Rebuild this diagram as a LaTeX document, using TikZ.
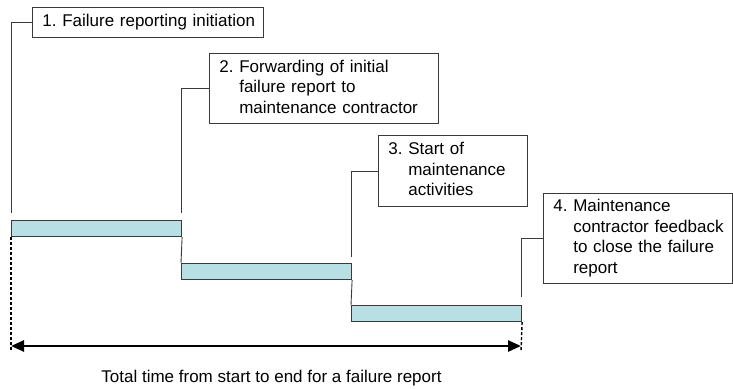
\documentclass[tikz,border=0pt]{standalone}
\usepackage{fontspec}
\setmainfont{Liberation Sans}
\usetikzlibrary{arrows.meta}
\definecolor{barfill}{HTML}{B8DFE3}
\definecolor{edge}{HTML}{3A3A3A}
\newcommand{\labelfont}{\fontsize{17}{20.5}\selectfont}
\tikzset{
  stepbox/.style={draw=edge, line width=0.9pt, fill=white, anchor=north west,
    inner xsep=10pt, inner ysep=0pt, align=left, font=\labelfont},
  phasebar/.style={draw=edge, line width=1.1pt, fill=barfill, anchor=north west,
    inner sep=0pt, minimum height=16pt, minimum width=170pt},
  leader/.style={draw=edge, line width=0.9pt},
  guide/.style={draw=black, line width=1.4pt, dash pattern=on 3pt off 2pt},
  span/.style={draw=black, line width=2.6pt,
    {Triangle[length=13pt,width=11pt]}-{Triangle[length=13pt,width=11pt]}}
}
\newcommand{\steptext}[2]{\begin{tabular}{@{}l@{\ }l@{}}#1.&#2\end{tabular}}
\begin{document}
\begin{tikzpicture}[x=1pt,y=-1pt]
  \useasboundingbox (0,0) rectangle (733,388);

  % step descriptions
  \node[stepbox, text width=211pt, minimum height=30pt] (box1) at (32,7)
    {\steptext{1}{Failure reporting initiation}};
  \node[stepbox, text width=209pt, minimum height=70pt] (box2) at (209,53)
    {\steptext{2}{Forwarding of initial\\&failure report to\\&maintenance contractor}};
  \node[stepbox, text width=129pt, minimum height=71pt] (box3) at (378,135)
    {\steptext{3}{Start of\\&maintenance\\&activities}};
  \node[stepbox, text width=169pt, minimum height=90pt] (box4) at (543,193)
    {\steptext{4}{Maintenance\\&contractor feedback\\&to close the failure\\&report}};

  % phase bars
  \node[phasebar] (bar1) at (11,220) {};
  \node[phasebar] (bar2) at (181,263) {};
  \node[phasebar] (bar3) at (351,305) {};

  % leader end points just above the bars
  \coordinate (t1) at (11,213);
  \coordinate (t2) at (181,213);
  \coordinate (t3) at (351,257);
  \coordinate (t4) at (521,297);

  \draw[leader] (box1.west) -| (t1);
  \draw[leader] (box2.west) -| (t2);
  \draw[leader] (box3.west) -| (t3);
  \draw[leader] (box4.west) -| (t4);

  % steps between consecutive bars
  \draw[leader] (bar1.south east) -- (bar2.north west);
  \draw[leader] (bar2.south east) -- (bar3.north west);

  % start and end guides
  \coordinate (g1) at (11,352);
  \coordinate (g2) at (521,352);
  \draw[guide] (bar1.south west) -- (g1);
  \draw[guide] (bar3.south east) -- (g2);

  % total duration arrow
  \coordinate (s1) at (11,346);
  \coordinate (s2) at (521,346);
  \draw[span] (s1) -- (s2);

  \node[font=\labelfont, anchor=base] (total) at (271.5,382)
    {Total time from start to end for a failure report};
\end{tikzpicture}
\end{document}
